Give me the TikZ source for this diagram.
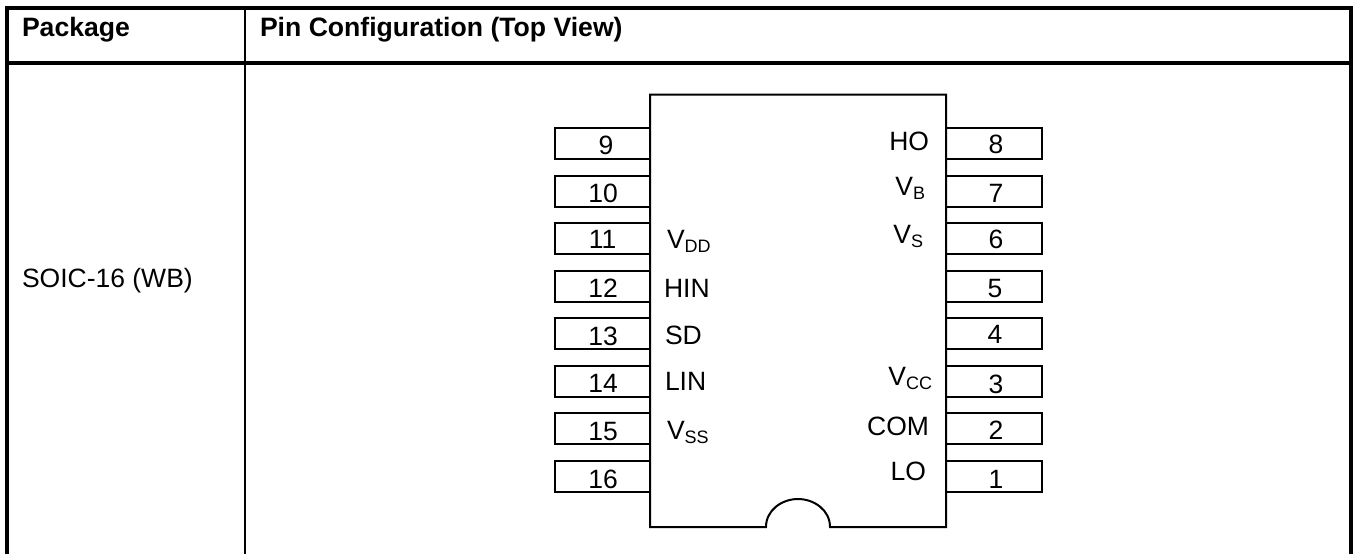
\documentclass[tikz,border=0pt]{standalone}
\usepackage{fontspec}
\setmainfont{Liberation Sans}
\tikzset{
  grid outer/.style={line width=4pt,line cap=butt},
  grid inner/.style={line width=2pt,line cap=butt},
  chipline/.style={line width=2pt,line join=miter},
  pinbox/.style={draw,line width=2pt,minimum width=96pt,minimum height=31pt,inner sep=0pt,outer sep=0pt,anchor=north west},
  txt/.style={inner sep=0pt,outer sep=0pt,font=\fontsize{26.5}{30}\selectfont},
  head/.style={txt,font=\fontsize{26.6}{30}\selectfont\bfseries,anchor=base west},
  numlab/.style={txt,anchor=base},
  leftlab/.style={txt,anchor=base west},
  rightlab/.style={txt,anchor=base east},
}
\newcommand{\subs}[1]{\raisebox{-4pt}{\fontsize{18}{20}\selectfont #1}}
\begin{document}
\begin{tikzpicture}[x=1pt,y=-1pt]
\useasboundingbox (0,0) rectangle (1353,554);
% table
\draw[grid outer] (7,554) -- (7,8) -- (1351,8) -- (1351,554);
\draw[grid outer] (7,63) -- (1351,63);
\draw[grid inner] (245,8) -- (245,554);
\node[head] (hpack) at (22,36) {Package};
\node[head] (hpin) at (260,36) {Pin Configuration (Top View)};
\node[txt,anchor=base west] (pkg) at (22,287) {SOIC-16 (WB)};
% pins, left
\foreach \n/\t/\b/\c in {9/127.5/154/606,10/175.5/202/603,11/222.5/248/602.5,12/270.5/297/603,13/318/345/603,14/366/392/603,15/413/440/603,16/461/488/603}{
  \node[pinbox] (p\n) at (554.5,\t) {};
  \node[numlab] (n\n) at (\c,\b) {\n};
}
% pins, right
\foreach \n/\t/\b/\c in {8/127.5/153/996,7/175.5/202/996,6/222.5/248/996,5/270.5/297/995,4/318/343/995,3/366/393/996,2/413/439/996,1/461/488/996}{
  \node[pinbox] (p\n) at (945.5,\t) {};
  \node[numlab] (n\n) at (\c,\b) {\n};
}
% chip body
\fill[white] (650,94) rectangle (946,527);
\draw[chipline] (766,527) .. controls (766,510) and (782,499) .. (798,499) .. controls (814,499) and (830,510) .. (830,527) -- (946,527) -- (946,94.5) -- (650,94.5) -- (650,527) -- cycle;
% chip labels
\node[leftlab] (vdd) at (667,248) {V\subs{DD}};
\node[leftlab] (hin) at (664,297) {HIN};
\node[leftlab] (sd) at (665,344) {SD};
\node[leftlab] (lin) at (665,390) {LIN};
\node[leftlab] (vss) at (667,439) {V\subs{SS}};
\node[rightlab] (ho) at (929,150) {HO};
\node[rightlab] (vb) at (925,195) {V\subs{B}};
\node[rightlab] (vs) at (923,243) {V\subs{S}};
\node[rightlab] (vcc) at (932,385) {V\subs{CC}};
\node[rightlab] (com) at (929,435) {COM};
\node[rightlab] (lo) at (926,480) {LO};
\end{tikzpicture}
\end{document}
